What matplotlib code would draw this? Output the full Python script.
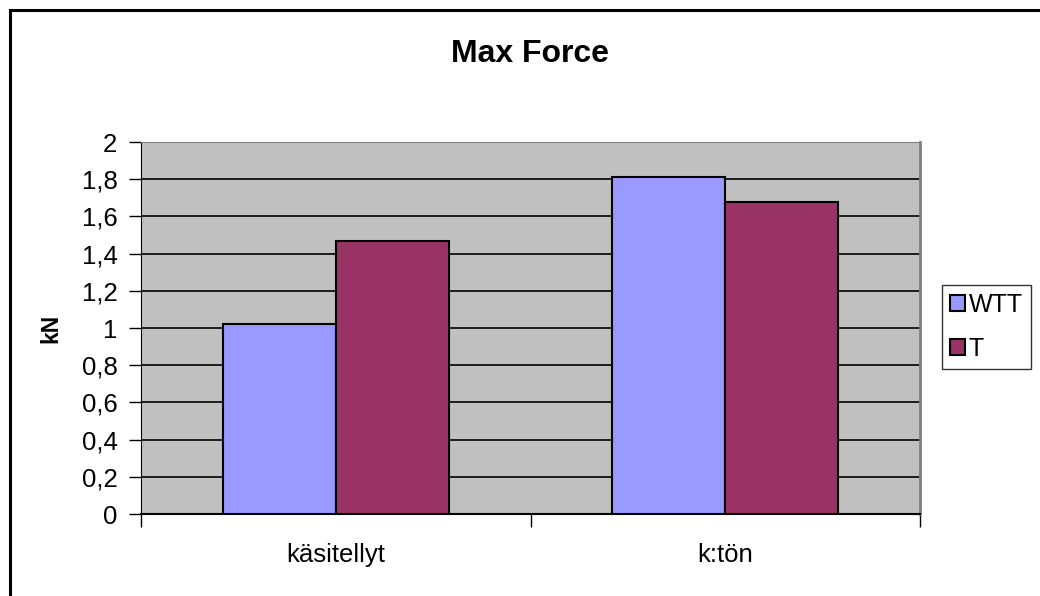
import numpy as np
import matplotlib.pyplot as plt
from matplotlib.lines import Line2D

plt.rcParams['font.family'] = ['Liberation Sans', 'DejaVu Sans']

# data
categories = ['käsitellyt', 'k:tön']
wtt = [1.02, 1.81]
t_vals = [1.47, 1.68]
series_names = ['WTT', 'T']
yticks = [0, 0.2, 0.4, 0.6, 0.8, 1, 1.2, 1.4, 1.6, 1.8, 2]
ytick_labels = [f'{v:g}'.replace('.', ',') for v in yticks]

fig = plt.figure(figsize=(10.4, 5.96), dpi=100)
ax = fig.add_axes([141 / 1040, 1 - 514 / 596, 779 / 1040, 372 / 596])
ax.set_facecolor('#C0C0C0')

x = np.arange(len(categories))
w = 0.29
ax.bar(x - w / 2, wtt, w, color='#9999FF', edgecolor='black', linewidth=1.5,
       label=series_names[0], zorder=3)
ax.bar(x + w / 2, t_vals, w, color='#993366', edgecolor='black', linewidth=1.5,
       label=series_names[1], zorder=3)

ax.set_xlim(-0.5, len(categories) - 0.5)
ax.set_ylim(0, 2)
ax.set_yticks(yticks)
ax.set_yticklabels(ytick_labels, fontsize=18.5)
ax.yaxis.grid(True, color='black', linewidth=1.2, zorder=1)
ax.set_axisbelow(True)

# category separators as major ticks, labels on minor ticks
ax.set_xticks(np.arange(-0.5, len(categories)), labels=[])
ax.set_xticks(x, labels=categories, minor=True)
ax.tick_params(axis='x', which='minor', length=0, pad=21, labelsize=18.5)
ax.tick_params(axis='x', which='major', length=9, width=1, direction='out')
ax.tick_params(axis='y', length=9, width=1, direction='out', pad=8)

ax.spines['left'].set_color('black')
ax.spines['bottom'].set_color('black')
ax.spines['bottom'].set_linewidth(1.5)
ax.spines['top'].set_color('#808080')
ax.spines['right'].set_color('#808080')
ax.spines['right'].set_linewidth(2)

fig.text(530 / 1040, 1 - 54 / 596, 'Max Force', ha='center', va='center',
         fontsize=23, fontweight='bold')
fig.text(51 / 1040, 1 - 328 / 596, 'kN', ha='center', va='center',
         rotation=90, fontsize=16.5, fontweight='bold')

leg = fig.legend(loc='center left', bbox_to_anchor=(942 / 1040, 1 - 327 / 596),
                 fontsize=18, frameon=True, fancybox=False, edgecolor='black',
                 handlelength=0.6, handleheight=0.6, handletextpad=0.15,
                 borderpad=0.32, labelspacing=0.8, borderaxespad=0)
leg.get_frame().set_linewidth(1)
for p in leg.get_patches():
    p.set_linewidth(1.5)

# outer chart border
fig.add_artist(Line2D([10 / 1040, 10 / 1040], [0, 1 - 10 / 596], color='black',
                      linewidth=2.2, transform=fig.transFigure))
fig.add_artist(Line2D([10 / 1040, 1], [1 - 10 / 596, 1 - 10 / 596], color='black',
                      linewidth=2.2, transform=fig.transFigure))

fig.savefig('out.png', dpi=100)
